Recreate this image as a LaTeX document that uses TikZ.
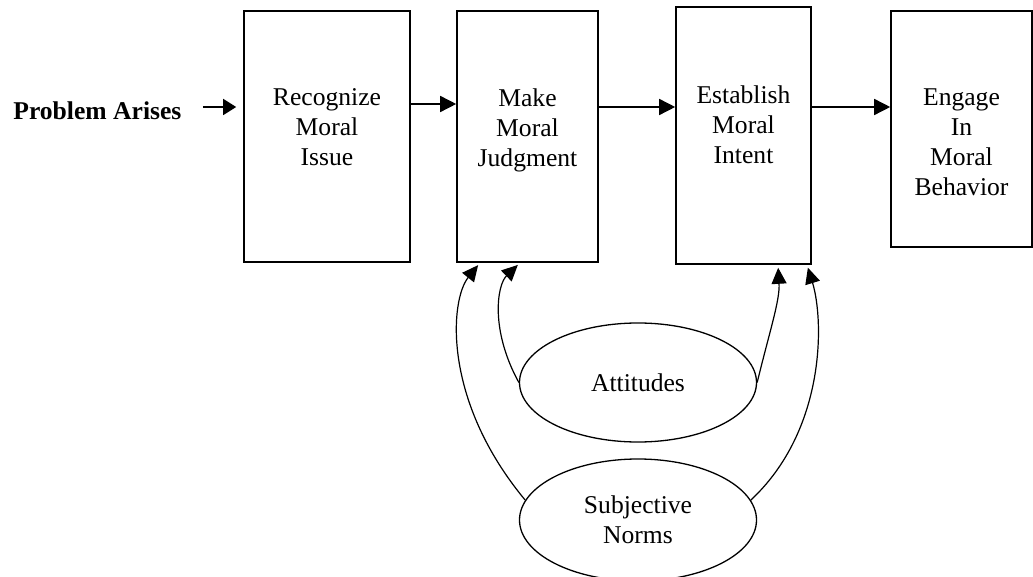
\documentclass[tikz,border=0pt]{standalone}
\usepackage{fontspec}
\setmainfont{Liberation Serif}
\usetikzlibrary{arrows.meta,shapes.geometric}
\begin{document}
\begin{tikzpicture}[x=0.5pt,y=-0.5pt,
  box/.style={draw, line width=0.8pt, inner sep=0pt},
  lbl/.style={align=center, inner sep=0pt, font=\fontsize{12.8pt}{15pt}\selectfont, anchor=north},
  oval/.style={draw, ellipse, line width=0.65pt, inner sep=0pt, minimum width=118.5pt, align=center, font=\fontsize{12.8pt}{15pt}\selectfont},
  arr/.style={-{Triangle[length=8pt,width=8pt]}, line width=0.75pt},
  carr/.style={-{Triangle[length=8pt,width=7.5pt]}, line width=0.6pt, shorten >=1.5pt}]
\useasboundingbox (0,0) rectangle (1033,577);
% boxes
\node[box, minimum width=83pt, minimum height=125.5pt] (b1) at (327,136.5) {};
\node[box, minimum width=70.5pt, minimum height=125.5pt] (b2) at (527.5,136.5) {};
\node[box, minimum width=67.5pt, minimum height=128.5pt] (b3) at (743.5,135.5) {};
\node[box, minimum width=70.5pt, minimum height=118pt] (b4) at (961.5,129) {};
% labels
\node[lbl] (t1) at (327,88) {Recognize\\Moral\\Issue};
\node[lbl] (t2) at (527.5,88) {Make\\Moral\\Judgment};
\node[lbl] (t3) at (743.5,85) {Establish\\Moral\\Intent};
\node[lbl] (t4) at (961.5,88) {Engage\\In\\Moral\\Behavior};
\node[anchor=base west, inner sep=0pt, font=\fontsize{12.8pt}{15pt}\selectfont\bfseries] (p) at (13,120) {Problem Arises};
% horizontal arrows
\draw[-{Triangle[length=6.5pt,width=8pt]}, line width=0.75pt, shorten <=10.5pt, shorten >=3.5pt] (p.east |- 0,107) -- (b1.west |- 0,107);
\draw[arr] (b1.east |- 0,104) -- (b2.west |- 0,104);
\draw[arr] (b2.east |- 0,107) -- (b3.west |- 0,107);
\draw[arr] (b3.east |- 0,107) -- (b4.west |- 0,107);
% ellipses
\node[oval, minimum height=59.5pt] (att) at (638,382.5) {Attitudes};
\node[oval, minimum height=61pt] (sn) at (638,520) {Subjective\\Norms};
% curved arrows
\draw[carr] (att.west) .. controls (490,330) and (497,285) .. (b2.south -| 520,0);
\draw[carr] (att.east) .. controls (770,330) and (780,300) .. (b3.south -| 778,0);
\draw[carr] (sn.170) .. controls (442,400) and (450,300) .. (b2.south -| 480,0);
\draw[carr] (sn.10) .. controls (826,430) and (824,320) .. (b3.south -| 807,0);
\end{tikzpicture}
\end{document}
